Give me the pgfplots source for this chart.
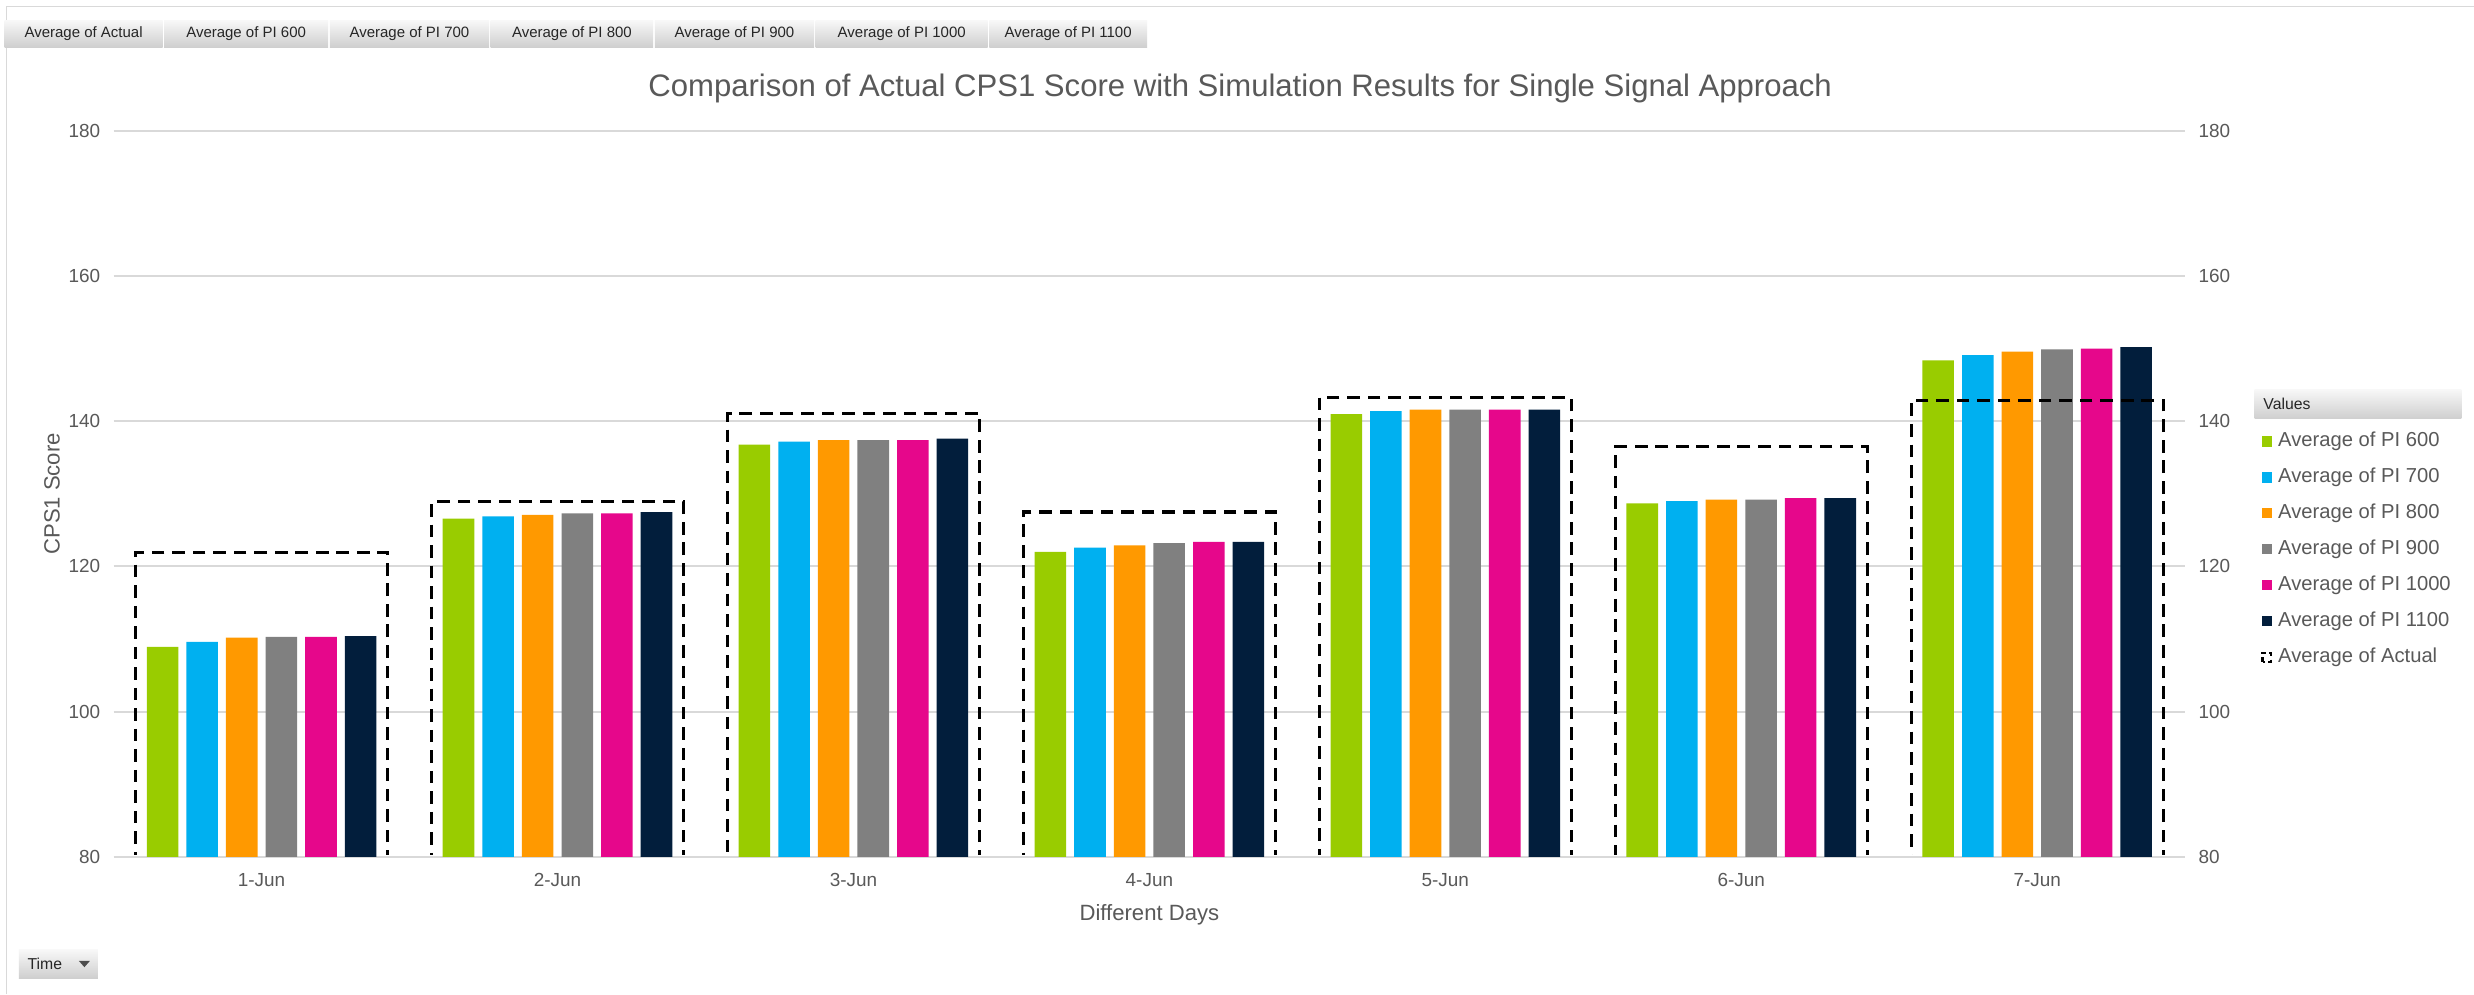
\documentclass[border=0pt]{standalone}
\usepackage{fontspec}
\setmainfont{Liberation Sans}
\usepackage{pgfplots}
\usepackage{pgfplotstable}
\pgfplotsset{compat=1.18}

\definecolor{cg}{HTML}{99CC00}
\definecolor{cb}{HTML}{00B0F0}
\definecolor{co}{HTML}{FF9900}
\definecolor{cgr}{HTML}{808080}
\definecolor{cm}{HTML}{E6078B}
\definecolor{cn}{HTML}{021E3C}
\definecolor{txt}{HTML}{595959}
\definecolor{gridc}{HTML}{D9D9D9}

% CPS1 score per day
\pgfplotstableread{
day pi600 pi700 pi800 pi900 pi1000 pi1100 actual
0 108.9 109.6 110.2 110.3 110.3 110.4 121.9
1 126.6 126.9 127.1 127.3 127.3 127.5 128.9
2 136.8 137.2 137.4 137.4 137.4 137.6 141.1
3 122.0 122.6 122.9 123.2 123.4 123.4 127.5
4 141.0 141.4 141.6 141.6 141.6 141.6 143.3
5 128.7 129.0 129.2 129.2 129.4 129.4 136.5
6 148.4 149.1 149.6 149.9 150.0 150.2 142.9
}\cps

\pgfplotsset{
  base/.style={
    at={(72pt,87pt)}, anchor=south west, scale only axis,
    width=1313pt, height=460pt,
    xmin=-0.5, xmax=6.5, ymin=80, ymax=180,
    ytick={80,100,...,180},
    axis line style={draw=none}, tick style={draw=none},
    tick label style={font=\fontsize{12}{14}\selectfont, text=txt},
    /pgf/number format/assume math mode=true,
  },
  pibar/.style={ybar, bar width=20pt, bar shift=#1, draw=none},
}

\begin{document}
\begin{tikzpicture}[x=1pt,y=1pt]
\fill[white] (0,0) rectangle (1568,630);
\draw[gray!30, line width=1pt] (4,0) -- (4,626) -- (1568,626);

% field buttons
\foreach \a/\b/\t in {3/103/Average of Actual, 104/208/Average of PI 600,
    209/310/Average of PI 700, 311/414/Average of PI 800, 415/516/Average of PI 900,
    517/626/Average of PI 1000, 627/727/Average of PI 1100} {
  \shade[top color=gray!6, bottom color=gray!38] (\a,600) rectangle (\b,617);
  \node[font=\fontsize{9.5}{10}\selectfont, text=black!85] at ({(\a+\b)/2},608.5) {\t};
}

\node[font=\fontsize{19.7}{22}\selectfont, text=txt] at (786,574)
  {Comparison of Actual CPS1 Score with Simulation Results for Single Signal Approach};

\begin{axis}[base,
  xtick={0,...,6},
  xticklabels={1-Jun,2-Jun,3-Jun,4-Jun,5-Jun,6-Jun,7-Jun},
  ymajorgrids, grid style={color=gridc, line width=1.3pt},
  yticklabel style={xshift=-5pt},
  xticklabel style={yshift=-7pt},
  xlabel={Different Days}, ylabel={CPS1 Score},
  label style={font=\fontsize{14}{16}\selectfont, text=txt},
  xlabel style={at={(axis description cs:0.5,-0.08)}, anchor=center},
  ylabel style={at={(axis description cs:-0.0297,0.5)}, anchor=center},
  legend style={at={(axis description cs:1.0366,0.5854)}, anchor=north west,
    draw=none, fill=none, inner sep=0pt, row sep=11pt,
    font=\fontsize{12.8}{14}\selectfont, text=txt,
    nodes={inner sep=0pt, text height=9pt, text depth=2.8pt},
    /tikz/every odd column/.style={column sep=4pt}},
  legend cell align=left,
  legend image code/.code={\fill[#1] (0pt,-3.2pt) rectangle (6.4pt,3.2pt);},
]
\addplot[pibar=-62.75pt, fill=cg] table[x=day, y=pi600] {\cps};
\addlegendentry{Average of PI 600}
\addplot[pibar=-37.65pt, fill=cb] table[x=day, y=pi700] {\cps};
\addlegendentry{Average of PI 700}
\addplot[pibar=-12.55pt, fill=co] table[x=day, y=pi800] {\cps};
\addlegendentry{Average of PI 800}
\addplot[pibar=12.55pt, fill=cgr] table[x=day, y=pi900] {\cps};
\addlegendentry{Average of PI 900}
\addplot[pibar=37.65pt, fill=cm] table[x=day, y=pi1000] {\cps};
\addlegendentry{Average of PI 1000}
\addplot[pibar=62.75pt, fill=cn] table[x=day, y=pi1100] {\cps};
\addlegendentry{Average of PI 1100}
\addlegendimage{legend image code/.code={\draw[black, line width=1.5pt, dash pattern=on 3pt off 2pt] (0.6pt,-2.8pt) rectangle (5.8pt,2.8pt);}}
\addlegendentry{Average of Actual}
\end{axis}

% secondary axis: actual values, labels on the right
\begin{axis}[base,
  axis x line=none, axis y line*=right,
  yticklabel style={xshift=5pt},
  clip=false,
]
\begin{scope}
\clip (axis cs:-0.5,80.35) rectangle (axis cs:6.5,180);
\addplot[ybar, bar width=159.8pt, bar shift=0pt, fill=none, draw=black,
  line width=2pt, dash pattern=on 8pt off 5pt] table[x=day, y=actual] {\cps};
\end{scope}
\end{axis}

% legend header
\shade[top color=gray!6, bottom color=gray!38] (1429,364.5) rectangle (1560,383.2);
\node[anchor=west, font=\fontsize{10}{11}\selectfont, text=black!85] at (1431,373.8) {Values};

% Time button
\shade[top color=gray!6, bottom color=gray!38] (12,10) rectangle (62,28);
\node[anchor=west, font=\fontsize{10}{11}\selectfont, text=black!85] at (14,19) {Time};
\fill[black!70] (50,21) -- (57,21) -- (53.5,17) -- cycle;

\pgfresetboundingbox
\path (0,0) rectangle (1568,630);
\end{tikzpicture}
\end{document}
